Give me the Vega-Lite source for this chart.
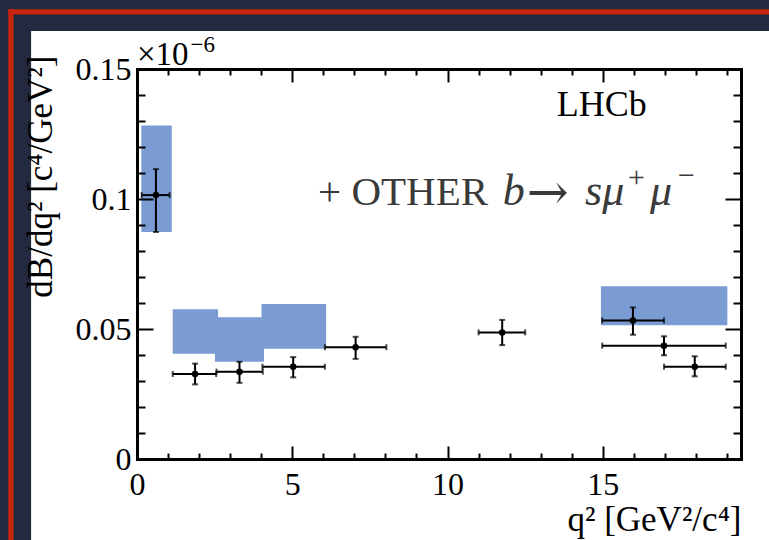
{
  "$schema": "https://vega.github.io/schema/vega-lite/v6.json",
  "width": 604,
  "height": 390,
  "autosize": {"type": "none"},
  "padding": {"left": 137, "top": 69, "right": 28, "bottom": 81},
  "background": "#232a3f",
  "config": {
    "view": {"stroke": null},
    "axis": {
      "grid": false,
      "domainColor": "black", "domainWidth": 3, "domainCap": "square",
      "tickColor": "black", "tickWidth": 2,
      "labelFont": "Liberation Serif", "labelFontSize": 32, "labelColor": "black",
      "titleFont": "Liberation Serif", "titleFontSize": 35, "titleFontWeight": "normal", "titleColor": "black"
    }
  },
  "datasets": {
    "points": [
      {"x": 0.61, "xlo": 0.15, "xhi": 1.05, "y": 0.1015, "ylo": 0.0873, "yhi": 0.1115},
      {"x": 1.87, "xlo": 1.15, "xhi": 2.55, "y": 0.0327, "ylo": 0.0287, "yhi": 0.0367},
      {"x": 3.30, "xlo": 2.56, "xhi": 4.05, "y": 0.0336, "ylo": 0.0293, "yhi": 0.0374},
      {"x": 5.03, "xlo": 4.04, "xhi": 6.05, "y": 0.0355, "ylo": 0.0314, "yhi": 0.0392},
      {"x": 7.04, "xlo": 6.05, "xhi": 8.03, "y": 0.0430, "ylo": 0.0385, "yhi": 0.0470},
      {"x": 11.76, "xlo": 11.0, "xhi": 12.5, "y": 0.0487, "ylo": 0.0438, "yhi": 0.0535},
      {"x": 15.97, "xlo": 14.98, "xhi": 16.97, "y": 0.0533, "ylo": 0.0478, "yhi": 0.0583},
      {"x": 16.97, "xlo": 14.98, "xhi": 18.96, "y": 0.0436, "ylo": 0.0399, "yhi": 0.0472},
      {"x": 17.96, "xlo": 16.97, "xhi": 18.96, "y": 0.0355, "ylo": 0.0318, "yhi": 0.0395}
    ],
    "boxes": [
      {"xlo": 0.14, "xhi": 1.12, "ylo": 0.0873, "yhi": 0.1283},
      {"xlo": 1.15, "xhi": 2.61, "ylo": 0.0405, "yhi": 0.0576},
      {"xlo": 2.51, "xhi": 4.09, "ylo": 0.0374, "yhi": 0.0545},
      {"xlo": 4.01, "xhi": 6.09, "ylo": 0.0424, "yhi": 0.0596},
      {"xlo": 14.94, "xhi": 19.01, "ylo": 0.0514, "yhi": 0.0664}
    ]
  },
  "resolve": {"axis": {"x": "independent", "y": "independent"}},
  "layer": [
    {
      "data": {"values": [{}]},
      "mark": {"type": "rect", "fill": "white"},
      "encoding": {
        "x": {"datum": -3.41, "type": "quantitative", "scale": {"domain": [0, 19.45], "nice": false, "zero": false}, "axis": null},
        "x2": {"datum": 20.5},
        "y": {"datum": 0.1646, "type": "quantitative", "scale": {"domain": [0, 0.15], "nice": false}, "axis": null},
        "y2": {"datum": -0.04}
      }
    },
    {
      "data": {"values": [{}]},
      "mark": {"type": "rule", "color": "#c8230c", "strokeWidth": 5.2},
      "encoding": {
        "x": {"datum": -4.06, "type": "quantitative", "scale": {"domain": [0, 19.45], "nice": false, "zero": false}, "axis": null},
        "y": {"datum": 0.1730, "type": "quantitative", "scale": {"domain": [0, 0.15], "nice": false}, "axis": null},
        "y2": {"datum": -0.04}
      }
    },
    {
      "data": {"values": [{}]},
      "mark": {"type": "rule", "color": "#c8230c", "strokeWidth": 5.2},
      "encoding": {
        "x": {"datum": -4.145, "type": "quantitative", "scale": {"domain": [0, 19.45], "nice": false, "zero": false}, "axis": null},
        "x2": {"datum": 20.5},
        "y": {"datum": 0.1720, "type": "quantitative", "scale": {"domain": [0, 0.15], "nice": false}, "axis": null}
      }
    },
    {
      "data": {"name": "boxes"},
      "mark": {"type": "rect", "fill": "#7b9bd3"},
      "encoding": {
        "x": {"field": "xlo", "type": "quantitative", "scale": {"domain": [0, 19.45], "nice": false, "zero": false},
          "axis": {"zindex": 1, "orient": "bottom", "values": [0, 5, 10, 15], "labelExpr": "format(datum.value, '~g')", "tickSize": -13, "labelPadding": 48, "labelBaseline": "alphabetic", "labelFlush": false, "labelOverlap": false,
            "title": "q² [GeV²/c⁴]", "titleX": 604, "titleY": 71, "titleAlign": "right", "titleBaseline": "alphabetic", "titleAnchor": "end"}},
        "x2": {"field": "xhi"},
        "y": {"field": "ylo", "type": "quantitative", "scale": {"domain": [0, 0.15], "nice": false},
          "axis": {"zindex": 1, "orient": "left", "values": [0, 0.05, 0.1, 0.15], "labelExpr": "datum.value == 0 ? '0' : format(datum.value, '.2~f')", "tickSize": -16, "labelPadding": 22, "labelBaseline": "middle", "labelAlign": "right", "labelFlush": false, "labelOverlap": false, "labelBound": false,
            "title": "dB/dq² [c⁴/GeV²]", "titleAngle": 270, "titleX": -86, "titleY": -14, "titleAlign": "right", "titleBaseline": "alphabetic"}},
        "y2": {"field": "yhi"}
      }
    },
    {
      "data": {"name": "points"},
      "mark": {"type": "rule", "color": "black", "strokeWidth": 2},
      "encoding": {
        "x": {"field": "xlo", "type": "quantitative", "scale": {"domain": [0, 19.45], "nice": false, "zero": false},
          "axis": {"zindex": 1, "orient": "top", "values": [0, 5, 10, 15], "tickSize": -13, "labels": false, "title": null}},
        "x2": {"field": "xhi"},
        "y": {"field": "y", "type": "quantitative", "scale": {"domain": [0, 0.15], "nice": false},
          "axis": {"zindex": 1, "orient": "right", "values": [0, 0.05, 0.1, 0.15], "tickSize": -16, "labels": false, "title": null}}
      }
    },
    {
      "data": {"name": "points"},
      "mark": {"type": "rule", "color": "black", "strokeWidth": 2},
      "encoding": {
        "x": {"field": "x", "type": "quantitative", "scale": {"domain": [0, 19.45], "nice": false, "zero": false},
          "axis": {"zindex": 1, "orient": "bottom", "values": [1, 2, 3, 4, 6, 7, 8, 9, 11, 12, 13, 14, 16, 17, 18, 19], "tickSize": -6, "labels": false, "title": null}},
        "y": {"field": "ylo", "type": "quantitative", "scale": {"domain": [0, 0.15], "nice": false},
          "axis": {"zindex": 1, "orient": "left", "values": [0.01, 0.02, 0.03, 0.04, 0.06, 0.07, 0.08, 0.09, 0.11, 0.12, 0.13, 0.14], "tickSize": -8, "labels": false, "title": null}},
        "y2": {"field": "yhi"}
      }
    },
    {
      "data": {"name": "points"},
      "transform": [{"fold": ["xlo", "xhi"], "as": ["end", "xe"]}],
      "mark": {"type": "tick", "orient": "vertical", "color": "black", "size": 6, "thickness": 2},
      "encoding": {
        "x": {"field": "xe", "type": "quantitative", "scale": {"domain": [0, 19.45], "nice": false, "zero": false}, "axis": null},
        "y": {"field": "y", "type": "quantitative", "scale": {"domain": [0, 0.15], "nice": false}, "axis": null}
      }
    },
    {
      "data": {"name": "points"},
      "transform": [{"fold": ["ylo", "yhi"], "as": ["end", "ye"]}],
      "mark": {"type": "tick", "orient": "horizontal", "color": "black", "size": 6, "thickness": 2},
      "encoding": {
        "x": {"field": "x", "type": "quantitative", "scale": {"domain": [0, 19.45], "nice": false, "zero": false}, "axis": null},
        "y": {"field": "ye", "type": "quantitative", "scale": {"domain": [0, 0.15], "nice": false}, "axis": null}
      }
    },
    {
      "data": {"name": "points"},
      "mark": {"type": "circle", "color": "black", "size": 42, "opacity": 1},
      "encoding": {
        "x": {"field": "x", "type": "quantitative", "scale": {"domain": [0, 19.45], "nice": false, "zero": false},
          "axis": {"zindex": 1, "orient": "top", "values": [1, 2, 3, 4, 6, 7, 8, 9, 11, 12, 13, 14, 16, 17, 18, 19], "tickSize": -6, "labels": false, "title": null}},
        "y": {"field": "y", "type": "quantitative", "scale": {"domain": [0, 0.15], "nice": false},
          "axis": {"zindex": 1, "orient": "right", "values": [0.01, 0.02, 0.03, 0.04, 0.06, 0.07, 0.08, 0.09, 0.11, 0.12, 0.13, 0.14], "tickSize": -8, "labels": false, "title": null}}
      }
    },
    {
      "data": {"values": [{}]},
      "mark": {"type": "text", "text": "×10", "font": "Liberation Serif", "fontSize": 33, "align": "left", "baseline": "alphabetic", "color": "black"},
      "encoding": {
        "x": {"datum": 0, "type": "quantitative", "scale": {"domain": [0, 19.45], "nice": false, "zero": false}, "axis": null},
        "y": {"datum": 0.1515, "type": "quantitative", "scale": {"domain": [0, 0.15], "nice": false}, "axis": null}
      }
    },
    {
      "data": {"values": [{}]},
      "mark": {"type": "text", "text": "−6", "font": "Liberation Serif", "fontSize": 23, "align": "left", "baseline": "alphabetic", "color": "black"},
      "encoding": {
        "x": {"datum": 1.72, "type": "quantitative", "scale": {"domain": [0, 19.45], "nice": false, "zero": false}, "axis": null},
        "y": {"datum": 0.1567, "type": "quantitative", "scale": {"domain": [0, 0.15], "nice": false}, "axis": null}
      }
    },
    {
      "data": {"values": [{}]},
      "mark": {"type": "text", "text": "LHCb", "font": "Liberation Serif", "fontSize": 36, "align": "left", "baseline": "alphabetic", "color": "black"},
      "encoding": {
        "x": {"datum": 13.52, "type": "quantitative", "scale": {"domain": [0, 19.45], "nice": false, "zero": false}, "axis": null},
        "y": {"datum": 0.1319, "type": "quantitative", "scale": {"domain": [0, 0.15], "nice": false}, "axis": null}
      }
    },
    {
      "data": {"values": [{}]},
      "mark": {"type": "text", "text": "+ OTHER", "font": "Liberation Serif", "fontSize": 41, "align": "left", "baseline": "alphabetic", "color": "#3a3a3a"},
      "encoding": {
        "x": {"datum": 5.83, "type": "quantitative", "scale": {"domain": [0, 19.45], "nice": false, "zero": false}, "axis": null},
        "y": {"datum": 0.0977, "type": "quantitative", "scale": {"domain": [0, 0.15], "nice": false}, "axis": null}
      }
    },
    {
      "data": {"values": [{}]},
      "mark": {"type": "text", "text": "b", "font": "Liberation Serif", "fontSize": 44, "fontStyle": "italic", "align": "left", "baseline": "alphabetic", "color": "#3a3a3a"},
      "encoding": {
        "x": {"datum": 11.78, "type": "quantitative", "scale": {"domain": [0, 19.45], "nice": false, "zero": false}, "axis": null},
        "y": {"datum": 0.0977, "type": "quantitative", "scale": {"domain": [0, 0.15], "nice": false}, "axis": null}
      }
    },
    {
      "data": {"values": [{}]},
      "mark": {"type": "text", "text": "→", "font": "DejaVu Serif", "fontSize": 50, "align": "left", "baseline": "alphabetic", "color": "#3a3a3a"},
      "encoding": {
        "x": {"datum": 12.55, "type": "quantitative", "scale": {"domain": [0, 19.45], "nice": false, "zero": false}, "axis": null},
        "y": {"datum": 0.0962, "type": "quantitative", "scale": {"domain": [0, 0.15], "nice": false}, "axis": null}
      }
    },
    {
      "data": {"values": [{}]},
      "mark": {"type": "text", "text": "sμ", "font": "Liberation Serif", "fontSize": 44, "fontStyle": "italic", "align": "left", "baseline": "alphabetic", "color": "#3a3a3a"},
      "encoding": {
        "x": {"datum": 14.43, "type": "quantitative", "scale": {"domain": [0, 19.45], "nice": false, "zero": false}, "axis": null},
        "y": {"datum": 0.0977, "type": "quantitative", "scale": {"domain": [0, 0.15], "nice": false}, "axis": null}
      }
    },
    {
      "data": {"values": [{}]},
      "mark": {"type": "text", "text": "+", "font": "Liberation Serif", "fontSize": 30, "align": "left", "baseline": "alphabetic", "color": "#3a3a3a"},
      "encoding": {
        "x": {"datum": 15.81, "type": "quantitative", "scale": {"domain": [0, 19.45], "nice": false, "zero": false}, "axis": null},
        "y": {"datum": 0.1045, "type": "quantitative", "scale": {"domain": [0, 0.15], "nice": false}, "axis": null}
      }
    },
    {
      "data": {"values": [{}]},
      "mark": {"type": "text", "text": "μ", "font": "Liberation Serif", "fontSize": 44, "fontStyle": "italic", "align": "left", "baseline": "alphabetic", "color": "#3a3a3a"},
      "encoding": {
        "x": {"datum": 16.52, "type": "quantitative", "scale": {"domain": [0, 19.45], "nice": false, "zero": false}, "axis": null},
        "y": {"datum": 0.0977, "type": "quantitative", "scale": {"domain": [0, 0.15], "nice": false}, "axis": null}
      }
    },
    {
      "data": {"values": [{}]},
      "mark": {"type": "text", "text": "−", "font": "Liberation Serif", "fontSize": 30, "align": "left", "baseline": "alphabetic", "color": "#3a3a3a"},
      "encoding": {
        "x": {"datum": 17.42, "type": "quantitative", "scale": {"domain": [0, 19.45], "nice": false, "zero": false}, "axis": null},
        "y": {"datum": 0.1052, "type": "quantitative", "scale": {"domain": [0, 0.15], "nice": false}, "axis": null}
      }
    }
  ]
}
